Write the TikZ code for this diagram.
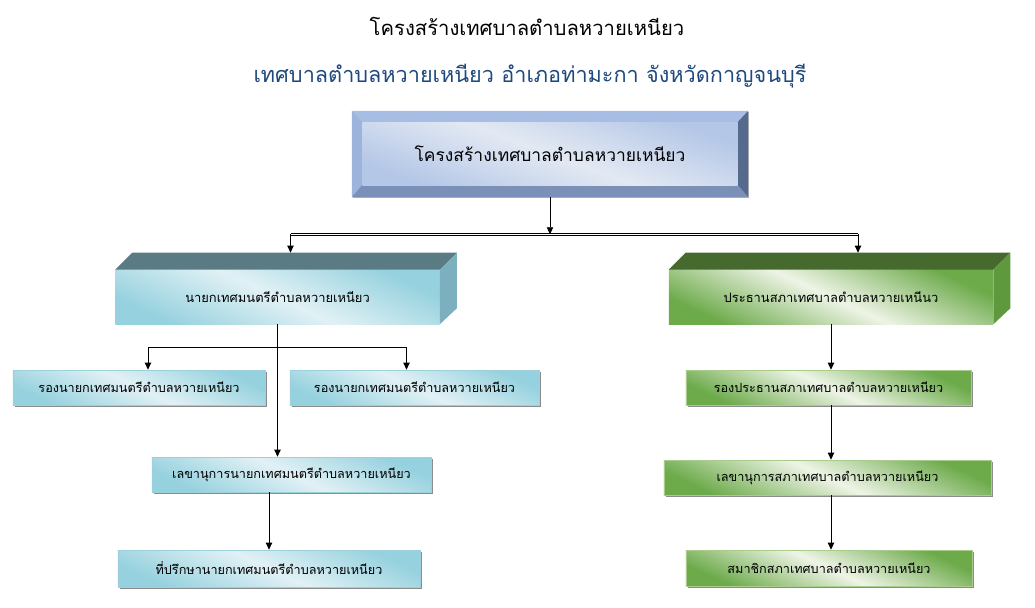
\documentclass[tikz,border=0pt]{standalone}
\usepackage{fontspec}
\newfontfamily\thaifont[Script=Thai]{Loma}
\usetikzlibrary{calc,shadows,arrows.meta}
\definecolor{titleblue}{HTML}{1F497D}
\definecolor{bevtop}{HTML}{A7BDE3}
\definecolor{bevleft}{HTML}{9CB3DC}
\definecolor{bevright}{HTML}{566A8E}
\definecolor{bevbottom}{HTML}{7B90B6}
\definecolor{headD}{HTML}{B4C7E7}
\definecolor{headL}{HTML}{E3E9F3}
\definecolor{cyD}{HTML}{95D1DE}
\definecolor{cyL}{HTML}{E1F1F5}
\definecolor{cyTop}{HTML}{5B7B84}
\definecolor{cySide}{HTML}{7DB0BE}
\definecolor{cyEdge}{HTML}{9DD0DB}
\definecolor{grD}{HTML}{6CAA4A}
\definecolor{grL}{HTML}{EEF4E6}
\definecolor{grTop}{HTML}{466A2D}
\definecolor{grSide}{HTML}{5F993D}
\definecolor{grEdge}{HTML}{A9CB8C}

\begin{document}
\begin{tikzpicture}
    [   x=0.025cm, y=-0.025cm,
        >={Triangle[length=5pt,width=4.5pt]},
        link/.style={line width=0.6pt},
        cyface/.style={top color=cyD, bottom color=cyD, middle color=cyL, shading angle=-25},
        grface/.style={top color=grD, bottom color=grD, middle color=grL, shading angle=-25},
        box/.style={#1face, draw=#1Edge, minimum height=0.875cm, font=\thaifont\fontsize{9}{11}\selectfont,
            drop shadow={shadow xshift=1.6pt, shadow yshift=-1.6pt, fill=black!45, opacity=1}},
        bigbox/.style={#1face, minimum width=8.1cm, minimum height=1.35cm, font=\thaifont\fontsize{9.2}{11}\selectfont},
        headbox/.style={minimum width=9.9cm, minimum height=2.15cm, font=\thaifont\fontsize{12.4}{15}\selectfont,
            drop shadow={shadow xshift=1pt, shadow yshift=-1pt, fill=black!30, opacity=1},
            path picture={
                \path (path picture bounding box.north west) coordinate (o1)
                      (path picture bounding box.north east) coordinate (o2)
                      (path picture bounding box.south east) coordinate (o3)
                      (path picture bounding box.south west) coordinate (o4);
                \path ($(o1)+(0.26cm,-0.28cm)$) coordinate (i1)
                      ($(o2)+(-0.26cm,-0.28cm)$) coordinate (i2)
                      ($(o3)+(-0.26cm,0.3cm)$) coordinate (i3)
                      ($(o4)+(0.26cm,0.3cm)$) coordinate (i4);
                \fill[bevtop] (o1) -- (o2) -- (i2) -- (i1) -- cycle;
                \fill[bevleft] (o1) -- (i1) -- (i4) -- (o4) -- cycle;
                \fill[bevright] (o2) -- (o3) -- (i3) -- (i2) -- cycle;
                \fill[bevbottom] (o4) -- (i4) -- (i3) -- (o3) -- cycle;
                \shade[top color=headD, bottom color=headD, middle color=headL, shading angle=-20] (i1) rectangle (i3);
            }},
    ]
    \useasboundingbox (0,0) rectangle (1035,607);

    % titles
    \node[font=\thaifont\fontsize{14.4}{17}\selectfont] (title) at (527,26) {โครงสร้างเทศบาลตำบลหวายเหนียว};
    \node[font=\thaifont\fontsize{15.4}{18}\selectfont, text=titleblue] (subtitle) at (530,76) {เทศบาลตำบลหวายเหนียว อำเภอท่ามะกา จังหวัดกาญจนบุรี};

    \node[headbox] (head) at (550,154) {โครงสร้างเทศบาลตำบลหวายเหนียว};

    \node[bigbox=cy] (mayor) at (277.5,297) {นายกเทศมนตรีตำบลหวายเหนียว};
    \node[bigbox=gr] (pres) at (831,297) {ประธานสภาเทศบาลตำบลหวายเหนีนว};

    % top and side faces
    \foreach \n/\c in {mayor/cy, pres/gr}
    {   \fill[\c Top] (\n.north west) -- ++(17,-17) -- ($(\n.north east)+(17,-17)$) -- (\n.north east) -- cycle;
        \fill[\c Side] (\n.north east) -- ++(17,-17) -- ($(\n.south east)+(17,-16)$) -- (\n.south east) -- cycle;
    }

    \node[box=cy, minimum width=6.3cm] (dmayorA) at (139,387.5) {รองนายกเทศมนตรีตำบลหวายเหนียว};
    \node[box=cy, minimum width=6.225cm] (dmayorB) at (414.5,387.5) {รองนายกเทศมนตรีตำบลหวายเหนียว};
    \node[box=cy, minimum width=6.975cm] (msec) at (291.5,474.5) {เลขานุการนายกเทศมนตรีตำบลหวายเหนียว};
    \node[box=cy, minimum width=7.55cm, minimum height=0.925cm] (adv) at (269,568.5) {ที่ปรึกษานายกเทศมนตรีตำบลหวายเหนียว};

    \node[box=gr, minimum width=7.125cm] (dpres) at (828.5,387.5) {รองประธานสภาเทศบาลตำบลหวายเหนียว};
    \node[box=gr, minimum width=8.175cm] (csec) at (827.5,477.5) {เลขานุการสภาเทศบาลตำบลหวายเหนียว};
    \node[box=gr, minimum width=7.15cm, minimum height=0.9cm] (member) at (829,568) {สมาชิกสภาเทศบาลตำบลหวายเหนียว};

    % connectors
    \coordinate (split) at ($(head.south)+(0,37)$);
    \coordinate (mtop) at ($(mayor.north)+(13,-17)$);
    \coordinate (ptop) at ($(pres.north)+(27,-17)$);
    \draw[link,->] (head.south) -- (split);
    \draw[double, double distance=0.9pt, line width=0.45pt] (mtop |- split) -- (ptop |- split);
    \draw[link,->] (mtop |- split) -- (mtop);
    \draw[link,->] (ptop |- split) -- (ptop);

    \coordinate (mbranch) at ($(mayor.south)+(0,23)$);
    \draw[link,->] (mayor.south) -- (mayor.south |- msec.north);
    \draw[link,->] (mbranch) -| ($(dmayorA.north)+(9,0)$);
    \draw[link,->] (mbranch) -| ($(dmayorB.north)+(-8,0)$);
    \draw[link,->] (adv.north |- msec.south) -- (adv.north);

    \draw[link,->] (pres.south) -- (pres.south |- dpres.north);
    \draw[link,->] (pres.south |- dpres.south) -- (pres.south |- csec.north);
    \draw[link,->] (pres.south |- csec.south) -- (pres.south |- member.north);
\end{tikzpicture}
\end{document}
